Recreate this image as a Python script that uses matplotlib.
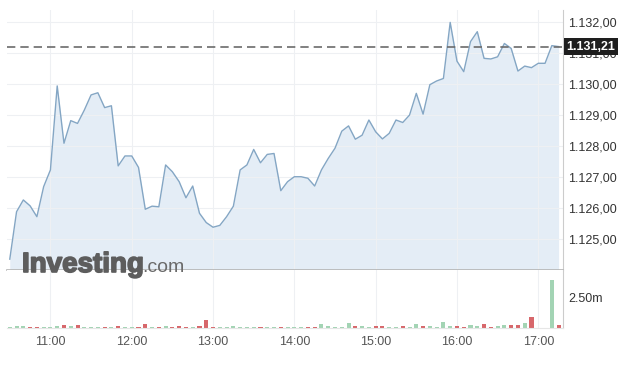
import numpy as np
import pandas as pd
import matplotlib
matplotlib.use("Agg")
import matplotlib.pyplot as plt
import matplotlib.dates as mdates
import matplotlib.patheffects as pe
from matplotlib.ticker import FuncFormatter

plt.rcParams['font.family'] = ['Liberation Sans', 'DejaVu Sans']

# 5 minute bars, 10:30 - 17:15
times = pd.date_range("2024-01-01 10:30", "2024-01-01 17:15", freq="5min")

prices = [1.12435, 1.12588, 1.12626, 1.12607, 1.12572, 1.12669, 1.12723, 1.12994, 1.12809, 1.12882,
          1.12873, 1.12916, 1.12965, 1.12972, 1.12924, 1.12930, 1.12736, 1.12768, 1.12768, 1.12731,
          1.12596, 1.12606, 1.12604, 1.12739, 1.12717, 1.12685, 1.12633, 1.12671, 1.12583, 1.12553,
          1.12538, 1.12544, 1.12572, 1.12606, 1.12723, 1.12739, 1.12789, 1.12746, 1.12773, 1.12776,
          1.12656, 1.12685, 1.12701, 1.12701, 1.12696, 1.12671, 1.12723, 1.12760, 1.12793, 1.12848,
          1.12865, 1.12822, 1.12835, 1.12884, 1.12846, 1.12823, 1.12841, 1.12884, 1.12876, 1.12900,
          1.12970, 1.12903, 1.12998, 1.13010, 1.13018, 1.13199, 1.13074, 1.13040, 1.13137, 1.13169,
          1.13083, 1.13081, 1.13088, 1.13131, 1.13115, 1.13042, 1.13058, 1.13053, 1.13067, 1.13067,
          1.13124, 1.13121]

# volume in millions
volumes = [0.08, 0.17, 0.17, 0.11, 0.11, 0.08, 0.08, 0.17, 0.28, 0.19,
           0.28, 0.08, 0.08, 0.06, 0.11, 0.06, 0.19, 0.11, 0.11, 0.08,
           0.36, 0.11, 0.06, 0.17, 0.11, 0.17, 0.11, 0.06, 0.19, 0.67,
           0.06, 0.06, 0.06, 0.17, 0.11, 0.11, 0.06, 0.06, 0.06, 0.11,
           0.06, 0.06, 0.06, 0.06, 0.06, 0.06, 0.36, 0.14, 0.08, 0.08,
           0.44, 0.19, 0.19, 0.11, 0.14, 0.14, 0.11, 0.11, 0.19, 0.11,
           0.36, 0.14, 0.14, 0.06, 0.52, 0.19, 0.19, 0.06, 0.28, 0.19,
           0.31, 0.06, 0.14, 0.22, 0.22, 0.22, 0.39, 0.89, 0.00, 0.00,
           3.97, 0.22]

last_price = 1.13121
price_ticks = [1.125, 1.126, 1.127, 1.128, 1.129, 1.130, 1.131, 1.132]
vol_ticks = [2.5]
hour_ticks = ["11:00", "12:00", "13:00", "14:00", "15:00", "16:00", "17:00"]

W, H = 627, 378
fig = plt.figure(figsize=(W / 100, H / 100), dpi=100)

def box(l, t, r, b):
    return [l / W, 1 - b / H, (r - l) / W, (b - t) / H]

ax = fig.add_axes(box(7, 10, 563, 270))
axv = fig.add_axes(box(7, 270, 563, 328), sharex=ax)

x = mdates.date2num(times)
step = x[1] - x[0]
xmin = x[0] - step * 0.41
xmax = x[-1] + step * 0.65

line_c = '#84a6c4'
fill_c = '#e4edf6'
grid_c = '#eef0f3'

ax.fill_between(x, prices, 1.124, color=fill_c, lw=0, zorder=1)
ax.plot(x, prices, color=line_c, lw=1.0, zorder=3)
ax.axhline(last_price, color='#6b6b6b', lw=1.2, ls=(0, (5, 3)), zorder=4)

ax.set_ylim(1.124, 1.13239)
ax.set_xlim(xmin, xmax)

def fmt_price(v, pos=None):
    s = f"{v * 1000:,.2f}"
    return s.replace(",", "X").replace(".", ",").replace("X", ".")

ax.yaxis.tick_right()
ax.set_yticks(price_ticks)
ax.yaxis.set_major_formatter(FuncFormatter(fmt_price))
ax.tick_params(axis='y', length=0, pad=4, labelsize=9, labelcolor='#333333')
ax.tick_params(axis='x', length=0, labelbottom=False)
ax.grid(True, color=grid_c, lw=0.8, zorder=0)
for s in ['top', 'left']:
    ax.spines[s].set_visible(False)
ax.spines['right'].set_color('#cccccc')
ax.spines['bottom'].set_color('#b5b5b5')
ax.spines['bottom'].set_linewidth(1.2)

# last price box, sits over the 1.131 label as in the original
ax.annotate(fmt_price(last_price), xy=(1.0, last_price), xycoords=('axes fraction', 'data'),
            xytext=(2.5, 0), textcoords='offset points', va='center', ha='left',
            fontsize=9, fontweight='bold', color='white', zorder=6,
            bbox=dict(boxstyle='square,pad=0.22', fc='#1e1e1e', ec='none'),
            annotation_clip=False)

# volume bars
vcols = ['#a3d4b4']
for i in range(1, len(prices)):
    vcols.append('#a3d4b4' if prices[i] >= prices[i - 1] else '#d7676b')
axv.bar(x, volumes, width=step * 0.6, color=vcols, zorder=2)
axv.set_ylim(0, 4.83)
axv.yaxis.tick_right()
axv.set_yticks(vol_ticks)
axv.set_yticklabels(["2.50m"])
axv.tick_params(axis='y', length=0, pad=4, labelsize=9, labelcolor='#333333')
axv.grid(True, axis='x', color=grid_c, lw=0.8, zorder=0)
for s in ['top', 'left']:
    axv.spines[s].set_visible(False)
axv.spines['right'].set_color('#cccccc')
axv.spines['bottom'].set_color('#e6e6e6')

hour_pos = [mdates.date2num(pd.Timestamp("2024-01-01 " + h)) for h in hour_ticks]
axv.set_xticks(hour_pos)
axv.set_xticklabels(hour_ticks)
axv.tick_params(axis='x', length=0, pad=6, labelsize=9, labelcolor='#555555')
axv.set_xlim(xmin, xmax)

# watermark
logo = fig.text(22 / W, 1 - 272 / H, "Investing", fontsize=20, fontweight='bold',
                color='#5d5d5d', va='baseline', ha='left', zorder=10,
                path_effects=[pe.withStroke(linewidth=1.2, foreground='#5d5d5d')])
fig.canvas.draw()
bb = logo.get_window_extent(fig.canvas.get_renderer())
fig.text(bb.x1 / W - 1 / W, 1 - 272 / H, ".com", fontsize=14, color='#6a6a6a',
         va='baseline', ha='left', zorder=10)

fig.savefig("out.png", dpi=100)
